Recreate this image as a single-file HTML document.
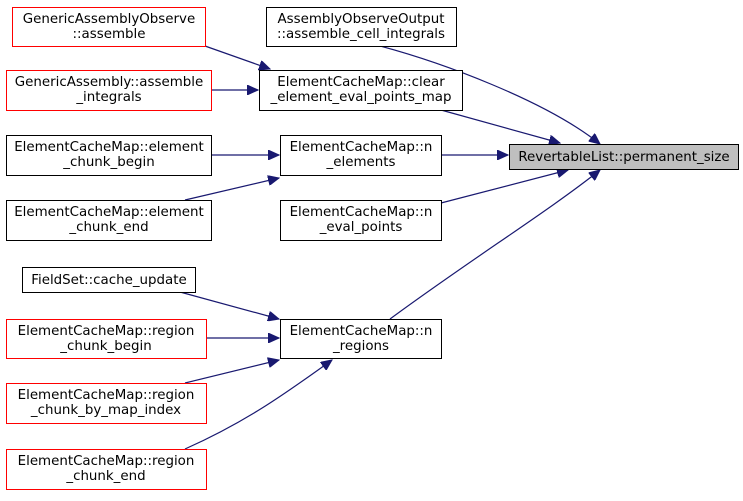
<!DOCTYPE html>
<html><head><style>
body{margin:0;background:#fff;width:743px;height:496px;overflow:hidden}
text{font-family:"DejaVu Sans","Liberation Sans",sans-serif;font-size:13.4px;fill:#000}
</style></head><body>
<svg width="743" height="496" viewBox="0 0 743 496" xmlns="http://www.w3.org/2000/svg">
<defs><marker id="a" markerWidth="12" markerHeight="10" refX="11" refY="5" orient="auto" markerUnits="userSpaceOnUse"><path d="M0,0 L11,5 L0,10 z" fill="#191970" stroke="#191970"/></marker></defs>
<g fill="none" stroke="#191970" stroke-width="1.2" marker-end="url(#a)">
<path d="M380,46 C440,62 545,100 600,144"/>
<path d="M205,46 L270,69"/>
<path d="M211,90 L258,90"/>
<path d="M441,110 L560,143"/>
<path d="M211,155 L279,155"/>
<path d="M185,200 L279,178"/>
<path d="M441,155 L508,155"/>
<path d="M441,203 L568,170"/>
<path d="M390,319 C470,260 550,210 600,170"/>
<path d="M180,292 L279,319"/>
<path d="M206,338 L279,338"/>
<path d="M185,383 L279,360"/>
<path d="M185,449 C250,420 290,390 332,360"/>
</g>
<g stroke-width="1" fill="#fff">
<rect x="12.5" y="7.5" width="193" height="39" stroke="#f00"/>
<rect x="266.5" y="7.5" width="190" height="39" stroke="#000"/>
<rect x="6.5" y="70.5" width="205" height="40" stroke="#f00"/>
<rect x="259.5" y="70.5" width="203" height="40" stroke="#000"/>
<rect x="6.5" y="135.5" width="205" height="40" stroke="#000"/>
<rect x="280.5" y="135.5" width="161" height="40" stroke="#000"/>
<rect x="509.5" y="144.5" width="229" height="25" stroke="#000" fill="#bfbfbf"/>
<rect x="6.5" y="200.5" width="205" height="40" stroke="#000"/>
<rect x="280.5" y="200.5" width="161" height="40" stroke="#000"/>
<rect x="22.5" y="267.5" width="173" height="25" stroke="#000"/>
<rect x="6.5" y="319.5" width="200" height="39" stroke="#f00"/>
<rect x="280.5" y="319.5" width="161" height="39" stroke="#000"/>
<rect x="6.5" y="383.5" width="200" height="40" stroke="#f00"/>
<rect x="6.5" y="449.5" width="200" height="40" stroke="#f00"/>
</g>
<g text-anchor="middle">
<text x="109" y="23">GenericAssemblyObserve</text><text x="109" y="38">::assemble</text>
<text x="361" y="23">AssemblyObserveOutput</text><text x="361" y="38">::assemble_cell_integrals</text>
<text x="109" y="86">GenericAssembly::assemble</text><text x="109" y="101">_integrals</text>
<text x="361" y="86">ElementCacheMap::clear</text><text x="361" y="101">_element_eval_points_map</text>
<text x="109" y="151">ElementCacheMap::element</text><text x="109" y="166">_chunk_begin</text>
<text x="361" y="151">ElementCacheMap::n</text><text x="361" y="166">_elements</text>
<text x="624" y="161">RevertableList::permanent_size</text>
<text x="109" y="216">ElementCacheMap::element</text><text x="109" y="231">_chunk_end</text>
<text x="361" y="216">ElementCacheMap::n</text><text x="361" y="231">_eval_points</text>
<text x="109" y="284">FieldSet::cache_update</text>
<text x="106" y="335">ElementCacheMap::region</text><text x="106" y="350">_chunk_begin</text>
<text x="361" y="335">ElementCacheMap::n</text><text x="361" y="350">_regions</text>
<text x="106" y="399">ElementCacheMap::region</text><text x="106" y="414">_chunk_by_map_index</text>
<text x="106" y="465">ElementCacheMap::region</text><text x="106" y="480">_chunk_end</text>
</g>
</svg>
</body></html>
